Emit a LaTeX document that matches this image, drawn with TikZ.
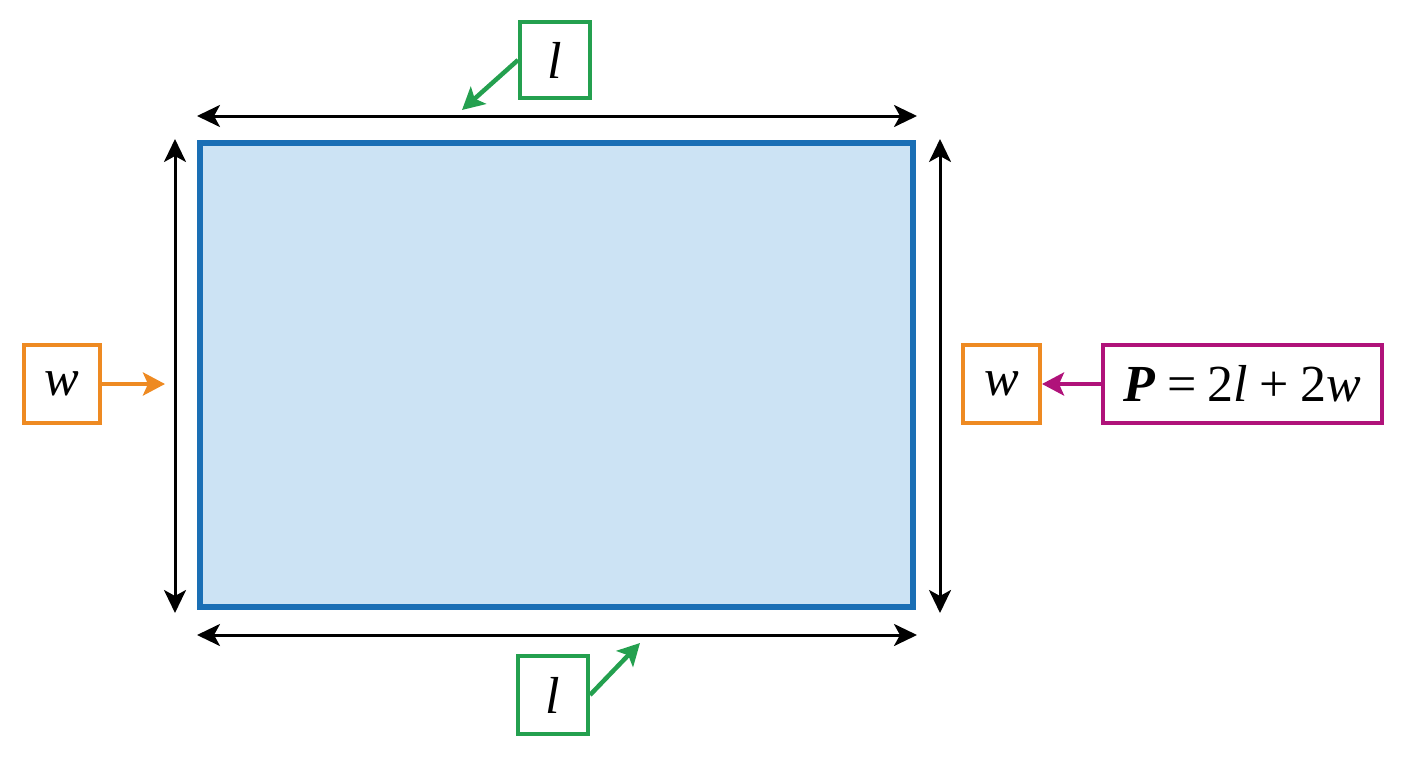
\documentclass[tikz,border=0pt]{standalone}
\usepackage{fontspec}
\setmainfont{Liberation Serif}
\usetikzlibrary{arrows.meta}
\definecolor{rectblue}{HTML}{1A6FB5}
\definecolor{rectfill}{HTML}{CCE3F4}
\definecolor{lgreen}{HTML}{24A04F}
\definecolor{worange}{HTML}{EE8A22}
\definecolor{pmag}{HTML}{B0127A}
\tikzset{
  lbl/.style={draw, line width=4pt, fill=white, inner sep=0pt, font=\fontsize{52}{56}\selectfont},
  dimarrow/.style={line width=3pt, {Stealth[length=23pt,width=22pt,inset=6pt]}-{Stealth[length=23pt,width=22pt,inset=6pt]}},
  ptr/.style={line width=4.5pt, -{Stealth[length=22pt,width=23pt,inset=5pt]}}
}
\newcommand{\opsp}{\hspace{0.22em}}
\begin{document}
\begin{tikzpicture}[x=1pt,y=-1pt]
\useasboundingbox (0,0) rectangle (1408,768);
\node[draw=rectblue, fill=rectfill, line width=6.5pt, minimum width=713pt, minimum height=464pt, inner sep=0pt] (rect) at (556.5,375) {};
% dimension arrow endpoints
\coordinate (ta) at (197,116); \coordinate (tb) at (917,116);
\coordinate (ba) at (197,635); \coordinate (bb) at (917,635);
\coordinate (la) at (175,139); \coordinate (lb) at (175,613);
\coordinate (ra) at (940,139); \coordinate (rb) at (940,613);
\draw[dimarrow] (ta) -- (tb);
\draw[dimarrow] (ba) -- (bb);
\draw[dimarrow] (la) -- (lb);
\draw[dimarrow] (ra) -- (rb);
% labels
\node[lbl, draw=lgreen, minimum width=70pt, minimum height=76pt] (ltop) at (555,60) {\textit{l}};
\node[lbl, draw=lgreen, minimum width=70pt, minimum height=78pt] (lbot) at (553,695) {\textit{l}};
\node[lbl, draw=worange, minimum width=76pt, minimum height=78pt] (wl) at (62,384) {\textit{w}};
\node[lbl, draw=worange, minimum width=77pt, minimum height=78pt] (wr) at (1001.5,384) {\textit{w}};
\node[lbl, draw=pmag, minimum width=279pt, minimum height=78pt] (pbox) at (1242.5,384) {\textit{\textbf{P}}\opsp=\opsp2\textit{l}\opsp+\opsp2\textit{w}};
% pointers
\coordinate (ltoptip) at (462,110);
\coordinate (lbottip) at (640,643);
\coordinate (wltip) at (165,384);
\draw[ptr, lgreen] (ltop.west) -- (ltoptip);
\draw[ptr, lgreen] (lbot.east) -- (lbottip);
\draw[ptr, worange] (wl.east) -- (wltip);
\draw[ptr, pmag] (pbox.west) -- (wr.east);
\end{tikzpicture}
\end{document}
